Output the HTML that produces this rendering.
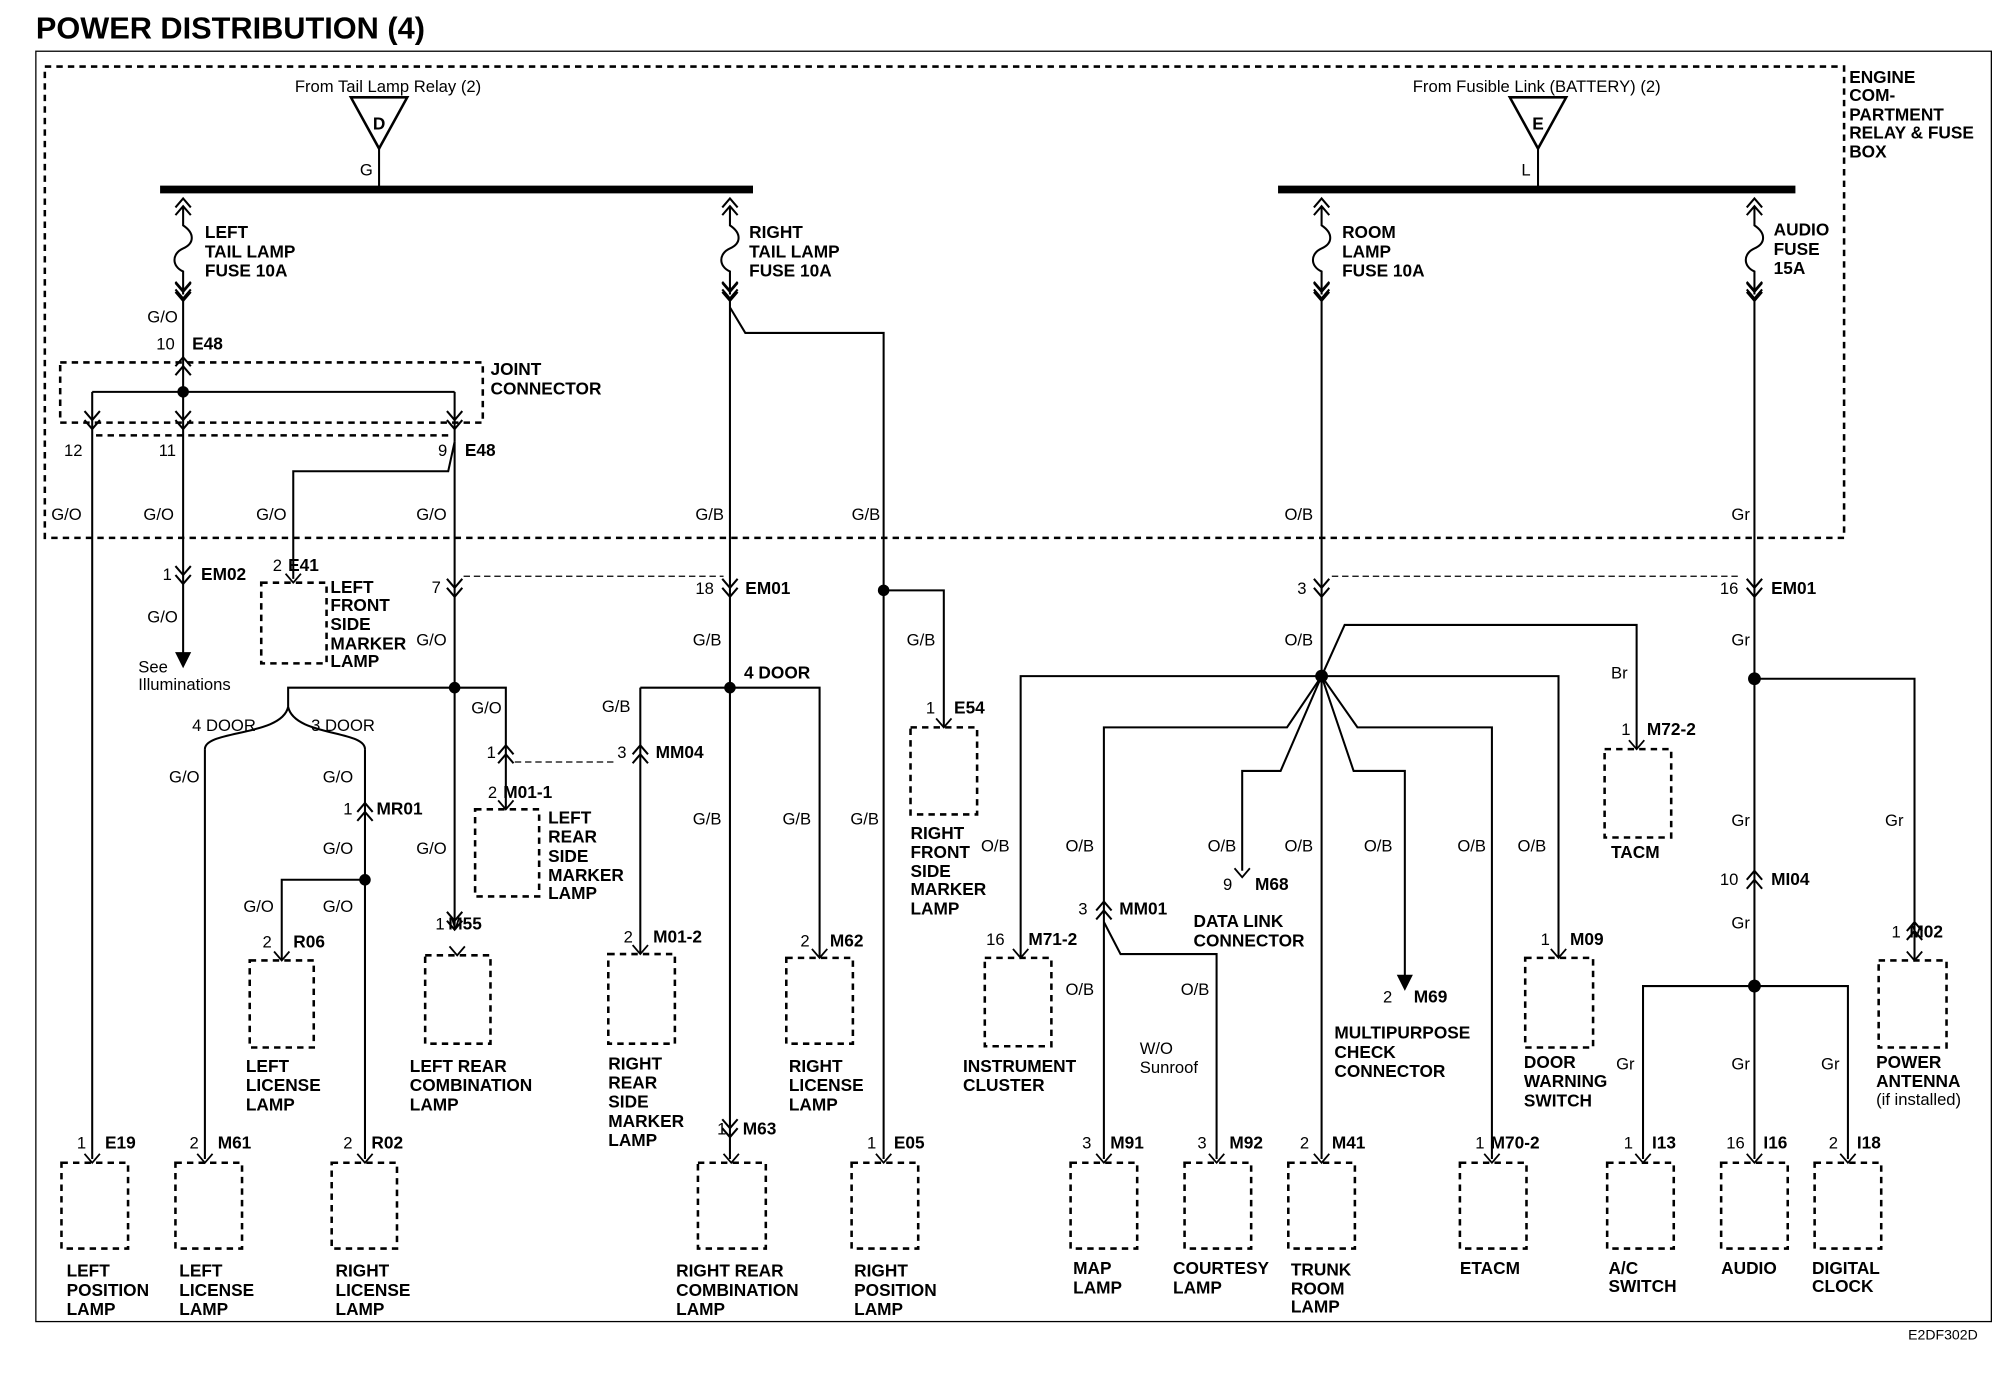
<!DOCTYPE html>
<html><head><meta charset="utf-8"><style>
html,body{margin:0;padding:0;background:#fff;}
svg{display:block;}
text{font-family:"Liberation Sans",sans-serif;fill:#000;}
.b{font-weight:bold;font-size:13.5px;}
.n{font-size:13px;}
</style></head><body>
<svg width="2008" height="1376" viewBox="0 0 1568 1074.5" preserveAspectRatio="none" xmlns="http://www.w3.org/2000/svg">
<defs>
<g id="fu" fill="none" stroke="#000" stroke-width="1.6">
<path d="M-6,12 L0,5 L6,12 M-6,18 L0,11 L6,18 M0,11 L0,26 C9,32 9,40 0,44 C-9,48 -9,58 0,62 L0,80 M-6,70 L0,77 L6,70 M-6,76 L0,83 L6,76"/>
</g>
<g id="cv" fill="none" stroke="#000" stroke-width="1.6">
<path d="M-6,-6 L0,1 L6,-6 M-6,1 L0,8 L6,1"/>
</g>
<g id="cu" fill="none" stroke="#000" stroke-width="1.6">
<path d="M-6,6 L0,-1 L6,6 M-6,-1 L0,-8 L6,-1"/>
</g>
<g id="tp" fill="none" stroke="#000" stroke-width="1.4">
<path d="M-6,-7 L0,0 L6,-7"/>
</g>
</defs>
<text x="28" y="30" style="font-weight:bold;font-size:24px">POWER DISTRIBUTION (4)</text>
<rect x="28" y="40" width="1527" height="992" fill="none" stroke="#000" stroke-width="1"/>
<rect x="35" y="52" width="1405" height="368" fill="none" stroke="#000" stroke-width="2" stroke-dasharray="5,4"/>
<g class="b"><text x="1444" y="65">ENGINE</text><text x="1444" y="79">COM-</text><text x="1444" y="94">PARTMENT</text><text x="1444" y="108">RELAY &amp; FUSE</text><text x="1444" y="123">BOX</text></g>
<text x="1490" y="1046" class="n" style="font-size:11px">E2DF302D</text>

<g stroke="#000" fill="none" stroke-width="1.6">
<!-- busbars -->
<line x1="125" y1="148" x2="588" y2="148" stroke-width="6"/>
<line x1="998" y1="148" x2="1402" y2="148" stroke-width="6"/>
<polygon points="274,76 318,76 296,116" stroke-width="2"/>
<polygon points="1179,76 1223,76 1201,116" stroke-width="2"/>
<line x1="296" y1="116" x2="296" y2="148"/>
<line x1="1201" y1="116" x2="1201" y2="148"/>
</g>
<text x="303" y="72" class="n" text-anchor="middle">From Tail Lamp Relay (2)</text>
<text x="1200" y="72" class="n" text-anchor="middle">From Fusible Link (BATTERY) (2)</text>
<text x="296" y="101" class="b" text-anchor="middle">D</text>
<text x="1201" y="101" class="b" text-anchor="middle">E</text>
<text x="281" y="137" class="n">G</text><text x="1188" y="137" class="n">L</text>

<!-- fuses -->
<use href="#fu" x="143" y="150"/><use href="#fu" x="570" y="150"/><use href="#fu" x="1032" y="150"/><use href="#fu" x="1370" y="150"/>
<g class="b">
<text x="160" y="186">LEFT</text><text x="160" y="201">TAIL LAMP</text><text x="160" y="216">FUSE 10A</text>
<text x="585" y="186">RIGHT</text><text x="585" y="201">TAIL LAMP</text><text x="585" y="216">FUSE 10A</text>
<text x="1048" y="186">ROOM</text><text x="1048" y="201">LAMP</text><text x="1048" y="216">FUSE 10A</text>
<text x="1385" y="184">AUDIO</text><text x="1385" y="199">FUSE</text><text x="1385" y="214">15A</text>
</g>

<g stroke="#000" fill="none" stroke-width="1.6">
<!-- left section -->
<line x1="143" y1="232" x2="143" y2="510"/>
<polygon points="138,510 148,510 143,520" fill="#000"/>
<line x1="72" y1="306" x2="355" y2="306"/>
<line x1="72" y1="306" x2="72" y2="905"/>
<line x1="355" y1="306" x2="355" y2="345"/>
<path d="M355,345 L350,368 L229,368 L229,452"/>
<line x1="355" y1="345" x2="355" y2="725"/>
<rect x="47" y="283" width="330" height="47" stroke-dasharray="5,4" stroke-width="2"/>
<line x1="75" y1="340" x2="352" y2="340" stroke-dasharray="5,4" stroke-width="2"/>
<line x1="362" y1="450" x2="565" y2="450" stroke-dasharray="5,3" stroke-width="1"/>
<path d="M355,537 L225,537 L225,552 M225,552 C220,575 160,570 160,585 M225,552 C230,575 285,570 285,585"/>
<line x1="160" y1="585" x2="160" y2="905"/>
<line x1="285" y1="585" x2="285" y2="905"/>
<path d="M285,687 L220,687 L220,750"/>
<path d="M355,537 L395,537 L395,632"/>
<line x1="402" y1="595" x2="480" y2="595" stroke-dasharray="5,3" stroke-width="1"/>
<!-- middle -->
<line x1="570" y1="232" x2="570" y2="905"/>
<path d="M570,240 L582,260 L690,260 L690,905"/>
<path d="M690,461 L737,461 L737,568"/>
<path d="M500,537 L640,537 L640,748 M500,537 L500,745"/>
<!-- right -->
<line x1="1032" y1="232" x2="1032" y2="905"/>
<line x1="1370" y1="232" x2="1370" y2="770"/>
<line x1="1040" y1="450" x2="1360" y2="450" stroke-dasharray="5,3" stroke-width="1"/>
<path d="M1032,528 L1050,488 L1278,488 L1278,585"/>
<path d="M797,748 L797,528 L1217,528 L1217,748"/>
<path d="M1032,528 L1005,568 L862,568 L862,905"/>
<path d="M1032,528 L1000,602 L970,602 L970,680"/>
<path d="M1032,528 L1057,602 L1097,602 L1097,765"/>
<polygon points="1092,762 1102,762 1097,772" fill="#000"/>
<path d="M1032,528 L1060,568 L1165,568 L1165,905"/>
<path d="M862,720 L875,745 L950,745 L950,905"/>
<path d="M1370,530 L1495,530 L1495,750"/>
<path d="M1283,905 L1283,770 L1443,770 L1443,905 M1370,770 L1370,905"/>
</g>
<g fill="#000">
<circle cx="143" cy="306" r="4.5"/><circle cx="355" cy="537" r="4.5"/><circle cx="285" cy="687" r="4.5"/>
<circle cx="570" cy="537" r="4.5"/><circle cx="690" cy="461" r="4.5"/><circle cx="1032" cy="528" r="5"/>
<circle cx="1370" cy="530" r="5"/><circle cx="1370" cy="770" r="5"/>
</g>
<!-- inline connectors -->
<use href="#cu" x="143" y="287"/><use href="#cv" x="72" y="327"/><use href="#cv" x="143" y="327"/><use href="#cv" x="355" y="327"/>
<use href="#cv" x="143" y="227"/><use href="#cv" x="570" y="227"/><use href="#cv" x="1032" y="227"/><use href="#cv" x="1370" y="227"/>
<use href="#cv" x="143" y="448"/><use href="#cv" x="355" y="458"/><use href="#cv" x="570" y="458"/><use href="#cv" x="1032" y="458"/><use href="#cv" x="1370" y="458"/>
<use href="#cu" x="395" y="590"/><use href="#cu" x="500" y="590"/><use href="#cu" x="285" y="635"/><use href="#cv" x="355" y="718"/>
<use href="#cv" x="570" y="880"/><use href="#cu" x="862" y="712"/><use href="#cu" x="1370" y="688"/><use href="#cu" x="1495" y="728"/>
<!-- boxes -->
<g fill="none" stroke="#000" stroke-width="2" stroke-dasharray="5,4">
<rect x="204" y="455" width="51" height="63"/>
<rect x="371" y="632" width="50" height="68"/>
<rect x="195" y="750" width="50" height="68"/>
<rect x="332" y="746" width="51" height="69"/>
<rect x="48" y="908" width="52" height="67"/>
<rect x="137" y="908" width="52" height="67"/>
<rect x="259" y="908" width="51" height="67"/>
<rect x="711" y="568" width="52" height="68"/>
<rect x="475" y="745" width="52" height="70"/>
<rect x="614" y="748" width="52" height="67"/>
<rect x="545" y="908" width="53" height="67"/>
<rect x="665" y="908" width="52" height="67"/>
<rect x="1253" y="585" width="52" height="69"/>
<rect x="769" y="748" width="52" height="69"/>
<rect x="836" y="908" width="52" height="67"/>
<rect x="925" y="908" width="52" height="67"/>
<rect x="1006" y="908" width="52" height="67"/>
<rect x="1191" y="748" width="53" height="70"/>
<rect x="1140" y="908" width="52" height="67"/>
<rect x="1467" y="750" width="53" height="68"/>
<rect x="1255" y="908" width="52" height="67"/>
<rect x="1344" y="908" width="52" height="67"/>
<rect x="1417" y="908" width="52" height="67"/>
</g>
<g>
<use href="#tp" x="72" y="908"/><use href="#tp" x="160" y="908"/><use href="#tp" x="285" y="908"/><use href="#tp" x="571" y="908"/><use href="#tp" x="690" y="908"/>
<use href="#tp" x="862" y="908"/><use href="#tp" x="950" y="908"/><use href="#tp" x="1032" y="908"/><use href="#tp" x="1165" y="908"/><use href="#tp" x="1283" y="908"/><use href="#tp" x="1370" y="908"/><use href="#tp" x="1443" y="908"/>
<use href="#tp" x="220" y="750"/><use href="#tp" x="357" y="746"/><use href="#tp" x="500" y="745"/><use href="#tp" x="640" y="748"/><use href="#tp" x="797" y="748"/><use href="#tp" x="1217" y="748"/><use href="#tp" x="1495" y="750"/>
<use href="#tp" x="229" y="455"/><use href="#tp" x="395" y="632"/><use href="#tp" x="737" y="568"/><use href="#tp" x="1278" y="585"/><use href="#tp" x="970" y="685"/>
</g>

<!-- wire labels -->
<g class="n">
<text x="115" y="252">G/O</text><text x="122" y="273">10</text>
<text x="50" y="356">12</text><text x="124" y="356">11</text><text x="342" y="356">9</text>
<text x="40" y="406">G/O</text><text x="112" y="406">G/O</text><text x="200" y="406">G/O</text><text x="325" y="406">G/O</text>
<text x="127" y="453">1</text><text x="115" y="486">G/O</text><text x="108" y="525">See</text><text x="108" y="539">Illuminations</text>
<text x="213" y="446">2</text><text x="337" y="463">7</text><text x="325" y="504">G/O</text><text x="368" y="557">G/O</text>
<text x="132" y="611">G/O</text><text x="252" y="611">G/O</text><text x="268" y="636">1</text><text x="252" y="667">G/O</text>
<text x="190" y="712">G/O</text><text x="252" y="712">G/O</text><text x="205" y="740">2</text><text x="380" y="592">1</text><text x="381" y="623">2</text>
<text x="325" y="667">G/O</text><text x="340" y="726">1</text>
<text x="60" y="897">1</text><text x="148" y="897">2</text><text x="268" y="897">2</text>
<text x="543" y="406">G/B</text><text x="665" y="406">G/B</text><text x="543" y="464">18</text><text x="541" y="504">G/B</text>
<text x="708" y="504">G/B</text><text x="723" y="557">1</text><text x="470" y="556">G/B</text><text x="482" y="592">3</text>
<text x="541" y="644">G/B</text><text x="611" y="644">G/B</text><text x="664" y="644">G/B</text>
<text x="487" y="736">2</text><text x="625" y="739">2</text><text x="560" y="886">1</text><text x="677" y="897">1</text>
<text x="1003" y="406">O/B</text><text x="1003" y="504">O/B</text><text x="1013" y="464">3</text>
<text x="1352" y="406">Gr</text><text x="1352" y="504">Gr</text><text x="1343" y="464">16</text><text x="1258" y="530">Br</text>
<text x="1266" y="574">1</text>
<text x="766" y="665">O/B</text><text x="832" y="665">O/B</text><text x="943" y="665">O/B</text><text x="1003" y="665">O/B</text><text x="1065" y="665">O/B</text><text x="1138" y="665">O/B</text><text x="1185" y="665">O/B</text>
<text x="770" y="738">16</text><text x="842" y="714">3</text><text x="955" y="695">9</text><text x="1080" y="783">2</text><text x="1203" y="738">1</text>
<text x="832" y="777">O/B</text><text x="922" y="777">O/B</text><text x="890" y="823">W/O</text><text x="890" y="838">Sunroof</text>
<text x="845" y="897">3</text><text x="935" y="897">3</text><text x="1015" y="897">2</text><text x="1152" y="897">1</text>
<text x="1352" y="645">Gr</text><text x="1472" y="645">Gr</text><text x="1343" y="691">10</text><text x="1352" y="725">Gr</text><text x="1477" y="732">1</text>
<text x="1262" y="835">Gr</text><text x="1352" y="835">Gr</text><text x="1422" y="835">Gr</text>
<text x="1268" y="897">1</text><text x="1348" y="897">16</text><text x="1428" y="897">2</text>
<text x="1465" y="863">(if installed)</text>
</g>
<!-- connector ids & component names -->
<g class="b">
<text x="150" y="273">E48</text><text x="363" y="356">E48</text><text x="383" y="293">JOINT</text><text x="383" y="308">CONNECTOR</text>
<text x="157" y="453">EM02</text><text x="225" y="446">E41</text>
<text x="258" y="463">LEFT</text><text x="258" y="477">FRONT</text><text x="258" y="492">SIDE</text><text x="258" y="507">MARKER</text><text x="258" y="521">LAMP</text>
<text x="294" y="636">MR01</text><text x="229" y="740">R06</text><text x="393" y="623">M01-1</text>
<text x="428" y="643">LEFT</text><text x="428" y="658">REAR</text><text x="428" y="673">SIDE</text><text x="428" y="688">MARKER</text><text x="428" y="702">LAMP</text>
<text x="350" y="726">M55</text>
<text x="192" y="837">LEFT</text><text x="192" y="852">LICENSE</text><text x="192" y="867">LAMP</text>
<text x="320" y="837">LEFT REAR</text><text x="320" y="852">COMBINATION</text><text x="320" y="867">LAMP</text>
<text x="82" y="897">E19</text><text x="170" y="897">M61</text><text x="290" y="897">R02</text>
<text x="52" y="997">LEFT</text><text x="52" y="1012">POSITION</text><text x="52" y="1027">LAMP</text>
<text x="140" y="997">LEFT</text><text x="140" y="1012">LICENSE</text><text x="140" y="1027">LAMP</text>
<text x="262" y="997">RIGHT</text><text x="262" y="1012">LICENSE</text><text x="262" y="1027">LAMP</text>
<text x="582" y="464">EM01</text><text x="581" y="530">4 DOOR</text><text x="512" y="592">MM04</text><text x="745" y="557">E54</text>
<text x="711" y="655">RIGHT</text><text x="711" y="670">FRONT</text><text x="711" y="685">SIDE</text><text x="711" y="699">MARKER</text><text x="711" y="714">LAMP</text>
<text x="510" y="736">M01-2</text><text x="648" y="739">M62</text>
<text x="475" y="835">RIGHT</text><text x="475" y="850">REAR</text><text x="475" y="865">SIDE</text><text x="475" y="880">MARKER</text><text x="475" y="895">LAMP</text>
<text x="616" y="837">RIGHT</text><text x="616" y="852">LICENSE</text><text x="616" y="867">LAMP</text>
<text x="580" y="886">M63</text><text x="698" y="897">E05</text>
<text x="528" y="997">RIGHT REAR</text><text x="528" y="1012">COMBINATION</text><text x="528" y="1027">LAMP</text>
<text x="667" y="997">RIGHT</text><text x="667" y="1012">POSITION</text><text x="667" y="1027">LAMP</text>
<text x="1383" y="464">EM01</text><text x="1286" y="574">M72-2</text><text x="1258" y="670">TACM</text>
<text x="803" y="738">M71-2</text><text x="752" y="837">INSTRUMENT</text><text x="752" y="852">CLUSTER</text>
<text x="874" y="714">MM01</text><text x="980" y="695">M68</text><text x="932" y="724">DATA LINK</text><text x="932" y="739">CONNECTOR</text>
<text x="1104" y="783">M69</text><text x="1042" y="811">MULTIPURPOSE</text><text x="1042" y="826">CHECK</text><text x="1042" y="841">CONNECTOR</text>
<text x="1226" y="738">M09</text><text x="1190" y="834">DOOR</text><text x="1190" y="849">WARNING</text><text x="1190" y="864">SWITCH</text>
<text x="867" y="897">M91</text><text x="960" y="897">M92</text><text x="1040" y="897">M41</text><text x="1164" y="897">M70-2</text>
<text x="838" y="995">MAP</text><text x="838" y="1010">LAMP</text>
<text x="916" y="995">COURTESY</text><text x="916" y="1010">LAMP</text>
<text x="1008" y="996">TRUNK</text><text x="1008" y="1011">ROOM</text><text x="1008" y="1025">LAMP</text>
<text x="1140" y="995">ETACM</text>
<text x="1383" y="691">MI04</text><text x="1491" y="732">M02</text>
<text x="1465" y="834">POWER</text><text x="1465" y="849">ANTENNA</text>
<text x="1290" y="897">I13</text><text x="1377" y="897">I16</text><text x="1450" y="897">I18</text>
<text x="1256" y="995">A/C</text><text x="1256" y="1009">SWITCH</text>
<text x="1344" y="995">AUDIO</text>
<text x="1415" y="995">DIGITAL</text><text x="1415" y="1009">CLOCK</text>
</g>
<g class="n"><text x="150" y="571">4 DOOR</text><text x="243" y="571">3 DOOR</text></g>
</svg>
</body></html>
